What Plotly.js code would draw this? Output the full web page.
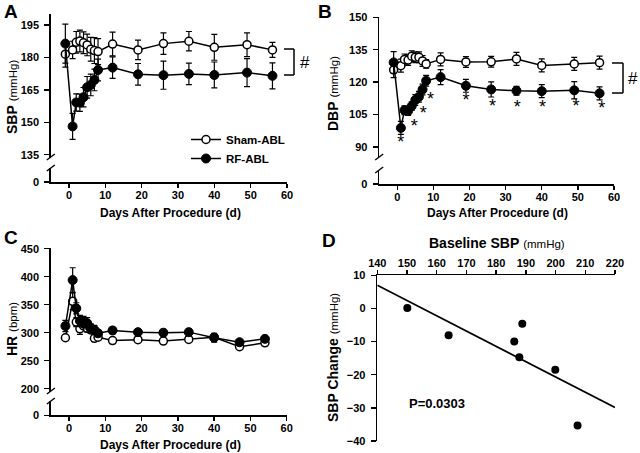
<!DOCTYPE html>
<html>
<head>
<meta charset="utf-8">
<script src="https://cdn.plot.ly/plotly-3.0.1.min.js"></script>
<style>html,body{margin:0;padding:0;background:#fff}#chart{width:640px;height:453px}</style>
</head>
<body>
<div id="chart"></div>
<script>
// ---------- DATA ----------
const daysAB = [-1, 1, 2, 3, 4, 5, 6, 7, 8, 12, 19, 26, 33, 40, 49, 56];
const shamSBP = [181.5, 183.5, 187, 187.6, 186.8, 185.8, 183.8, 183.2, 182.7, 186.2, 183.5, 186.4, 187.5, 184.7, 185.9, 183.5];
const shamSBPErr = [6, 4, 5, 5, 5, 5, 5.5, 6, 6, 5.5, 4.5, 5, 4.5, 6, 5.5, 3.5];
const rfSBP = [186.4, 148.1, 159.2, 159.1, 161.6, 166.2, 167.3, 169.6, 174.2, 175.3, 172.2, 171.8, 172.4, 171.9, 173.0, 171.5];
const rfSBPErr = [9, 6, 4, 4, 4.5, 5, 5, 5, 5, 5, 5, 6.5, 5, 6, 6.5, 6];

const shamDBP = [125.6, 127.6, 130.5, 130.2, 132, 131.5, 131.5, 129.8, 128.4, 130.5, 129.3, 129.4, 130.7, 127.7, 128.4, 129];
const shamDBPErr = [3.5, 3, 2.5, 2.5, 2.5, 2.5, 2.5, 2.5, 2, 3, 2.5, 2.5, 3, 3, 3, 3];
const rfDBP = [129.1, 98.8, 107, 106.6, 108.9, 111.7, 113.2, 116.6, 120.6, 122.3, 118.3, 116.6, 116, 115.8, 116.2, 114.8];
const rfDBPErr = [5, 3, 2, 2, 2, 2.5, 2.5, 2.5, 2.5, 3.5, 3, 3.5, 2, 3, 4, 3];
const starX = [1, 4.7, 7.2, 9.2, 19, 26.4, 33.2, 40.2, 49.5, 56.6];
const starY = [91.6, 98.8, 105, 111.7, 110.9, 108.3, 107.8, 107.8, 108.3, 107.3];

const daysC = [-1, 1, 2, 3, 4, 5, 6, 7, 8, 12, 19, 26, 33, 40, 47, 54];
const shamHR = [291, 356, 319, 307, 312, 308, 305, 290, 292, 286, 287.5, 285, 288, 292, 275, 282];
const shamHRErr = [4, 15, 8, 10, 8, 7, 6, 5, 5, 4, 4, 4, 4, 5, 4, 4];
const rfHR = [312, 394, 343.5, 321, 319, 317, 308, 305, 299, 304, 301, 300, 301, 291, 283, 289];
const rfHRErr = [10, 22, 10, 10, 10, 10, 8, 8, 6, 6, 5, 6, 6, 8, 5, 5];

const baseSBP = [150.1, 164.0, 186.1, 187.8, 188.8, 199.9, 207.4];
const changeSBP = [0.1, -8.1, -10.0, -14.7, -4.6, -18.5, -35.3];
const fitX = [140, 220];
const fitY = [7.0, -29.9];

const xTicks = [0, 10, 20, 30, 40, 50, 60];
const sbpTicks = [135, 150, 165, 180, 195];
const dbpTicks = [90, 105, 120, 135, 150];
const hrTicks = [200, 250, 300, 350, 400, 450];
const dxTicks = [140, 150, 160, 170, 180, 190, 200, 210, 220];
const dyTicks = [-40, -30, -20, -10, 0, 10];

// ---------- HELPERS ----------
const W = 640, H = 453;
const fx = p => p / W;
const fy = p => 1 - p / H;
const FONT = 'Liberation Sans, Arial, sans-serif';
const tickfont = {family: FONT, size: 11, color: '#000', weight: 'bold'};
const axBase = {
  showline: true, linecolor: '#000', linewidth: 1.6,
  ticks: 'outside', ticklen: 5, tickwidth: 1.4, tickcolor: '#000',
  showgrid: false, zeroline: false, tickfont: tickfont, fixedrange: true,
  ticklabelstandoff: 3
};
const ax = o => Object.assign({}, axBase, o);
const xax = o => Object.assign({}, axBase, {ticklen: 4, ticklabelstandoff: -2}, o);

function openTrace(x, y, e, xa, ya, name, show) {
  return {x: x, y: y, xaxis: xa, yaxis: ya, name: name, showlegend: !!show,
    mode: 'lines+markers', cliponaxis: false,
    line: {color: '#000', width: 1.5},
    marker: {symbol: 'circle', size: 8, color: '#fff', line: {color: '#000', width: 1.5}},
    error_y: {type: 'data', array: e, color: '#000', thickness: 1.2, width: 3}};
}
function filledTrace(x, y, e, xa, ya, name, show) {
  return {x: x, y: y, xaxis: xa, yaxis: ya, name: name, showlegend: !!show,
    mode: 'lines+markers', cliponaxis: false,
    line: {color: '#000', width: 1.5},
    marker: {symbol: 'circle', size: 9, color: '#000', line: {color: '#000', width: 1}},
    error_y: {type: 'data', array: e, color: '#000', thickness: 1.2, width: 3}};
}
const dummy = (xa, ya) => ({x: [], y: [], xaxis: xa, yaxis: ya, showlegend: false, mode: 'markers'});

const data = [
  dummy('x', 'y2'), dummy('x2', 'y4'), dummy('x3', 'y6'),
  openTrace(daysAB, shamSBP, shamSBPErr, 'x', 'y', 'Sham-ABL', true),
  filledTrace(daysAB, rfSBP, rfSBPErr, 'x', 'y', 'RF-ABL', true),
  openTrace(daysAB, shamDBP, shamDBPErr, 'x2', 'y3', 'Sham-ABL', false),
  filledTrace(daysAB, rfDBP, rfDBPErr, 'x2', 'y3', 'RF-ABL', false),
  {x: starX, y: starY, xaxis: 'x2', yaxis: 'y3', mode: 'text', text: starX.map(() => '*'),
   textfont: {family: FONT, size: 18, color: '#000'}, showlegend: false, cliponaxis: false},
  openTrace(daysC, shamHR, shamHRErr, 'x3', 'y5', 'Sham-ABL', false),
  filledTrace(daysC, rfHR, rfHRErr, 'x3', 'y5', 'RF-ABL', false),
  {x: fitX, y: fitY, xaxis: 'x4', yaxis: 'y7', mode: 'lines', line: {color: '#000', width: 1.8},
   showlegend: false, cliponaxis: false},
  {x: baseSBP, y: changeSBP, xaxis: 'x4', yaxis: 'y7', mode: 'markers', showlegend: false,
   marker: {size: 8, color: '#000'}, cliponaxis: false}
];

const layout = {
  width: W, height: H, margin: {l: 0, r: 0, t: 0, b: 0},
  paper_bgcolor: '#fff', plot_bgcolor: 'rgba(0,0,0,0)',
  font: {family: FONT, color: '#000'},
  showlegend: true,
  legend: {x: fx(186), y: fy(125), xanchor: 'left', yanchor: 'top', bgcolor: 'rgba(0,0,0,0)',
    font: {family: FONT, size: 11.5, weight: 'bold', color: '#000'}, tracegroupgap: 0},
  // Panel A
  xaxis: xax({domain: [fx(50.8), fx(287)], range: [-5, 60], anchor: 'y2', tickvals: xTicks}),
  yaxis: ax({domain: [fy(158), fy(14)], range: [133.5, 200.1], anchor: 'x', tickvals: sbpTicks}),
  yaxis2: ax({domain: [fy(182), fy(168)], range: [0, 6.5], anchor: 'x', tickvals: [0]}),
  // Panel B
  xaxis2: xax({domain: [fx(379.2), fx(614)], range: [-5, 60], anchor: 'y4', tickvals: xTicks}),
  yaxis3: ax({domain: [fy(158), fy(17)], range: [84.9, 150.1], anchor: 'x2', tickvals: dbpTicks}),
  yaxis4: ax({domain: [fy(184), fy(170)], range: [0, 6.5], anchor: 'x2', tickvals: [0]}),
  // Panel C
  xaxis3: xax({domain: [fx(50.9), fx(286.7)], range: [-5, 60], anchor: 'y6', tickvals: xTicks}),
  yaxis5: ax({domain: [fy(392), fy(248)], range: [194.1, 451.25], anchor: 'x3', tickvals: hrTicks}),
  yaxis6: ax({domain: [fy(415.3), fy(401)], range: [0, 25.5], anchor: 'x3', tickvals: [0]}),
  // Panel D
  xaxis4: xax({domain: [fx(377.3), fx(615)], range: [140, 220], anchor: 'y7', side: 'top', tickvals: dxTicks}),
  yaxis7: ax({domain: [fy(441), fy(275.3)], range: [-40, 10], anchor: 'x4', tickvals: dyTicks}),
  annotations: [],
  shapes: []
};

function ann(px, py, text, size, opts) {
  layout.annotations.push(Object.assign({xref: 'paper', yref: 'paper', x: fx(px), y: fy(py),
    xanchor: 'center', yanchor: 'middle', showarrow: false, text: text,
    font: {family: FONT, size: size, color: '#000'}}, opts || {}));
}
function seg(x0, y0, x1, y1, w) {
  layout.shapes.push({type: 'line', xref: 'paper', yref: 'paper', x0: fx(x0), y0: fy(y0), x1: fx(x1), y1: fy(y1),
    line: {color: '#000', width: w || 1.5}});
}
const sm = t => '<span style="font-size:11.5px;font-weight:normal">' + t + '</span>';

// panel letters
ann(11, 11, '<b>A</b>', 19);
ann(325, 11, '<b>B</b>', 19);
ann(11, 237, '<b>C</b>', 19);
ann(329, 240, '<b>D</b>', 19);
// axis titles
ann(170, 213, '<b>Days After Procedure (d)</b>', 12);
ann(497, 213, '<b>Days After Procedure (d)</b>', 12);
ann(170, 445, '<b>Days After Procedure (d)</b>', 12);
ann(12, 97, '<b>SBP</b> ' + sm('(mmHg)'), 14, {textangle: -90});
ann(333, 94, '<b>DBP</b> ' + sm('(mmHg)'), 14, {textangle: -90});
ann(12, 329, '<b>HR</b> ' + sm('(bpm)'), 14, {textangle: -90});
ann(333, 358, '<b>SBP Change</b> ' + sm('(mmHg)'), 14, {textangle: -90});
ann(497, 243, '<b>Baseline SBP</b> ' + sm('(mmHg)'), 14);
ann(407, 403, '<b>P=0.0303</b>', 13, {xanchor: 'left'});
// significance brackets
ann(305, 62, '#', 17);
ann(633, 78, '#', 17);
seg(284, 49, 294, 49); seg(294, 49, 294, 75); seg(294, 75, 284, 75);
seg(612, 63, 623, 63); seg(623, 63, 623, 93); seg(623, 93, 612, 93);
// axis break marks
[[50.8, 158, 168], [379.2, 158, 170], [50.9, 392, 401]].forEach(b => {
  const x = b[0];
  seg(x - 4, b[1] + 2, x + 4, b[1] - 4, 1.4);
  seg(x - 4, b[2] + 3, x + 4, b[2] - 3, 1.4);
});

Plotly.newPlot('chart', data, layout, {displayModeBar: false, staticPlot: true});
</script>
</body>
</html>
